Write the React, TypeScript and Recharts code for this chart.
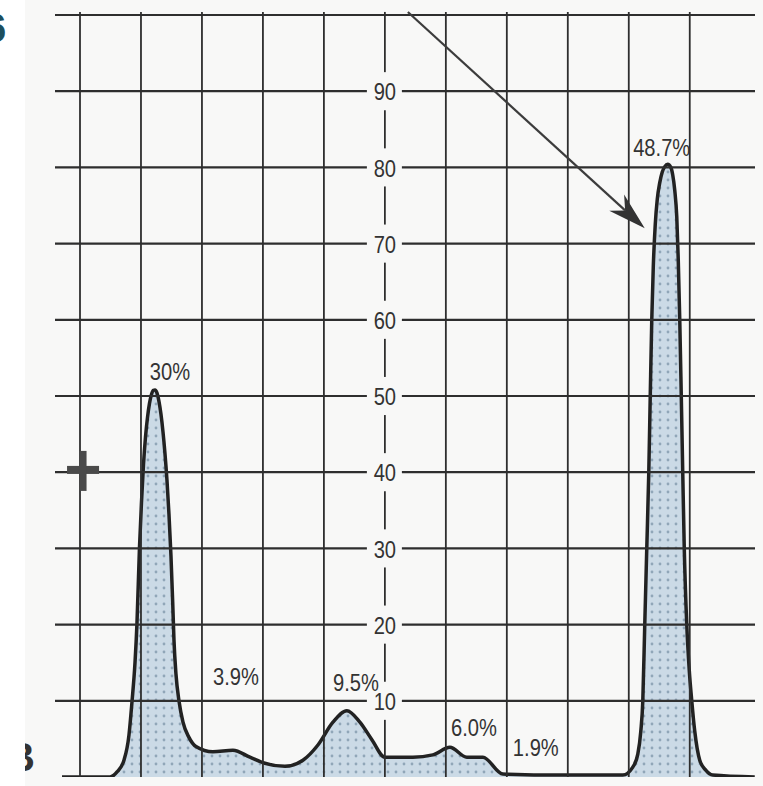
import {
  ComposedChart,
  Area,
  XAxis,
  YAxis,
  ReferenceLine,
  ReferenceDot,
} from "recharts";

// densitometer trace, x in grid columns, y in scale units (0-100)
const mobility = [
  -0.295, 0.492, 0.607, 0.721, 0.803, 0.852, 0.902, 0.934, 0.975, 1.008, 1.041, 1.074,
  1.107, 1.139, 1.172, 1.205, 1.23, 1.262, 1.295, 1.328, 1.361, 1.393, 1.426, 1.459,
  1.492, 1.52, 1.541, 1.574, 1.623, 1.689, 1.787, 1.902, 2.18, 2.508, 2.787, 3.033,
  3.361, 3.656, 3.902, 4.148, 4.377, 4.59, 4.787, 5.0, 5.459, 5.787, 6.066, 6.344,
  6.607, 6.934, 7.869, 8.902, 9.066, 9.148, 9.197, 9.23, 9.262, 9.295, 9.328, 9.352,
  9.377, 9.402, 9.434, 9.467, 9.508, 9.549, 9.59, 9.639, 9.689, 9.721, 9.754, 9.787,
  9.811, 9.836, 9.861, 9.885, 9.91, 9.951, 9.992, 10.033, 10.082, 10.164, 10.262,
  10.377, 11.066,
];
const density = [
  0, 0, 0.66, 2.2, 5.5, 9.8, 15, 20.1, 30, 36, 41, 44.6,
  47.2, 49, 50.2, 50.75, 50.8, 50.4, 49.3, 47.6, 45.3, 42.5, 39, 34.5,
  29, 23, 18, 13.5, 10, 7.2, 5.2, 4.0, 3.3, 3.5, 2.6, 1.8,
  1.4, 2.2, 4.2, 7.2, 8.7, 7.2, 4.9, 2.6, 2.6, 2.9, 3.9, 2.6,
  2.6, 0.4, 0.26, 0.26, 1.3, 3, 6, 10, 20, 30, 40, 50,
  60, 67, 72.5, 75.8, 78, 79.4, 80.1, 80.4, 80, 79, 77, 73.5,
  68, 60, 50, 40, 30, 20, 14, 10, 6, 2.2, 0.9,
  0.26, 0,
];

const peakLabels = ["30%", "3.9%", "9.5%", "6.0%", "1.9%", "48.7%"];
const peakLabelX = [1.475, 2.557, 4.525, 6.46, 7.475, 9.54];
const peakLabelY = [53.3, 13.25, 12.5, 6.56, 3.9, 82.7];

const scaleTicks = [10, 20, 30, 40, 50, 60, 70, 80, 90];
const gridRows = [10, 20, 30, 40, 50, 60, 70, 80, 90];
const gridColumns = [0, 1, 2, 3, 4, 6, 7, 8, 9, 10];
const scaleColumn = 5;

const X_MIN = -0.41;
const X_MAX = 11.07;
const Y_TOP = 100;
const GAP_LEFT = 4.705;
const GAP_RIGHT = 5.279;

const arrowFrom = { x: 5.377, y: 100.4 };
const arrowTo = { x: 9.262, y: 72.0 };
const anodeMark = { x: 0.05, y: 40.3 };

const data = mobility.map((x, i) => ({ x, y: density[i] }));

const INK = "#2e2e2e";
const FONT = "'Liberation Sans', Arial, sans-serif";

// narrow print face: regular sans squeezed horizontally
const NarrowLabel = ({ viewBox, text }: any) => {
  if (!viewBox) return null;
  const cx = viewBox.x + (viewBox.width || 0) / 2;
  const cy = viewBox.y + (viewBox.height || 0) / 2;
  return (
    <text
      transform={`translate(${cx},${cy + 1}) scale(0.84,1)`}
      textAnchor="middle"
      dominantBaseline="central"
      fontFamily={FONT}
      fontSize={24}
      fill="#333"
    >
      {text}
    </text>
  );
};

const ArrowShape = (props: any) => {
  const { x1, y1, x2, y2 } = props;
  if (x1 == null) return null;
  const ang = Math.atan2(y2 - y1, x2 - x1);
  const len = 38;
  const half = 11;
  const ux = Math.cos(ang);
  const uy = Math.sin(ang);
  const bx = x2 - ux * len;
  const by = y2 - uy * len;
  const nx = x2 - ux * len * 0.7;
  const ny = y2 - uy * len * 0.7;
  const pts = [
    [x2, y2],
    [bx - uy * half, by + ux * half],
    [nx, ny],
    [bx + uy * half, by - ux * half],
  ]
    .map((p) => p.join(","))
    .join(" ");
  return (
    <g>
      <line x1={x1} y1={y1} x2={nx} y2={ny} stroke="#3c3c3c" strokeWidth={2.2} />
      <polygon points={pts} fill="#333" />
    </g>
  );
};

const CrossShape = (props: any) => {
  const { cx, cy } = props;
  if (cx == null) return null;
  return (
    <g fill="#4a4a4a">
      <rect x={cx - 16} y={cy - 4} width={32} height={8} />
      <rect x={cx - 3.5} y={cy - 19} width={7} height={40} />
    </g>
  );
};

export default function App() {
  return (
    <div
      style={{
        position: "absolute",
        left: 0,
        top: 0,
        width: 763,
        height: 786,
        background: "#ffffff",
        overflow: "hidden",
      }}
    >
      <div
        style={{
          position: "absolute",
          left: 25,
          top: 0,
          width: 738,
          height: 786,
          background: "#f8f8f7",
          overflow: "hidden",
        }}
      >
        <span
          style={{
            position: "absolute",
            left: -19,
            top: 737,
            fontFamily: FONT,
            fontWeight: 700,
            fontSize: 40,
            color: "#333",
            lineHeight: 1,
          }}
        >
          B
        </span>
      </div>
      <span
        style={{
          position: "absolute",
          left: -16,
          top: 8,
          fontFamily: FONT,
          fontWeight: 700,
          fontSize: 40,
          color: "#1d4f5e",
          lineHeight: 1,
        }}
      >
        6
      </span>
      <div style={{ position: "absolute", left: 0, top: 0 }}>
        <ComposedChart
          width={763}
          height={786}
          data={data}
          margin={{ top: 15, right: 8, bottom: 9, left: 55 }}
        >
          <defs>
            <pattern id="dots" width="8" height="8" patternUnits="userSpaceOnUse">
              <rect width="8" height="8" fill="#cbdae6" />
              <circle cx="4" cy="4" r="1.4" fill="#90a6b8" />
            </pattern>
          </defs>
          <XAxis type="number" dataKey="x" domain={[X_MIN, X_MAX]} hide allowDataOverflow />
          <YAxis type="number" domain={[0, Y_TOP]} hide allowDataOverflow />

          {/* grid */}
          <ReferenceLine
            segment={[
              { x: X_MIN, y: Y_TOP },
              { x: X_MAX, y: Y_TOP },
            ]}
            stroke={INK}
            strokeWidth={2.2}
            ifOverflow="visible"
          />
          {gridRows.map((v) => (
            <ReferenceLine
              key={`l${v}`}
              segment={[
                { x: X_MIN, y: v },
                { x: GAP_LEFT, y: v },
              ]}
              stroke={INK}
              strokeWidth={2.2}
              ifOverflow="visible"
            />
          ))}
          {gridRows.map((v) => (
            <ReferenceLine
              key={`r${v}`}
              segment={[
                { x: GAP_RIGHT, y: v },
                { x: X_MAX, y: v },
              ]}
              stroke={INK}
              strokeWidth={2.2}
              ifOverflow="visible"
            />
          ))}
          {gridColumns.map((c) => (
            <ReferenceLine
              key={`c${c}`}
              segment={[
                { x: c, y: 0 },
                { x: c, y: 100.4 },
              ]}
              stroke={INK}
              strokeWidth={1.8}
              ifOverflow="visible"
            />
          ))}
          {[0, ...scaleTicks].map((v) => (
            <ReferenceLine
              key={`s${v}`}
              segment={[
                { x: scaleColumn, y: v === 0 ? 0 : v + 2.5 },
                { x: scaleColumn, y: v === 90 ? 100.4 : v + 7.5 },
              ]}
              stroke={INK}
              strokeWidth={1.8}
              ifOverflow="visible"
            />
          ))}

          <Area
            type="monotone"
            dataKey="y"
            stroke="#222"
            strokeWidth={3.5}
            fill="url(#dots)"
            fillOpacity={1}
            isAnimationActive={false}
            dot={false}
            activeDot={false}
          />

          {scaleTicks.map((v) => (
            <ReferenceDot
              key={`t${v}`}
              x={scaleColumn}
              y={v}
              r={0}
              fill="none"
              stroke="none"
              label={(p: any) => <NarrowLabel viewBox={p.viewBox} text={String(v)} />}
            />
          ))}
          {peakLabels.map((t, i) => (
            <ReferenceDot
              key={t}
              x={peakLabelX[i]}
              y={peakLabelY[i]}
              r={0}
              fill="none"
              stroke="none"
              label={(p: any) => <NarrowLabel viewBox={p.viewBox} text={t} />}
            />
          ))}

          <ReferenceLine
            segment={[arrowFrom, arrowTo]}
            ifOverflow="visible"
            shape={ArrowShape}
          />
          <ReferenceDot
            x={anodeMark.x}
            y={anodeMark.y}
            r={1}
            ifOverflow="visible"
            shape={CrossShape}
          />
        </ComposedChart>
      </div>
    </div>
  );
}
